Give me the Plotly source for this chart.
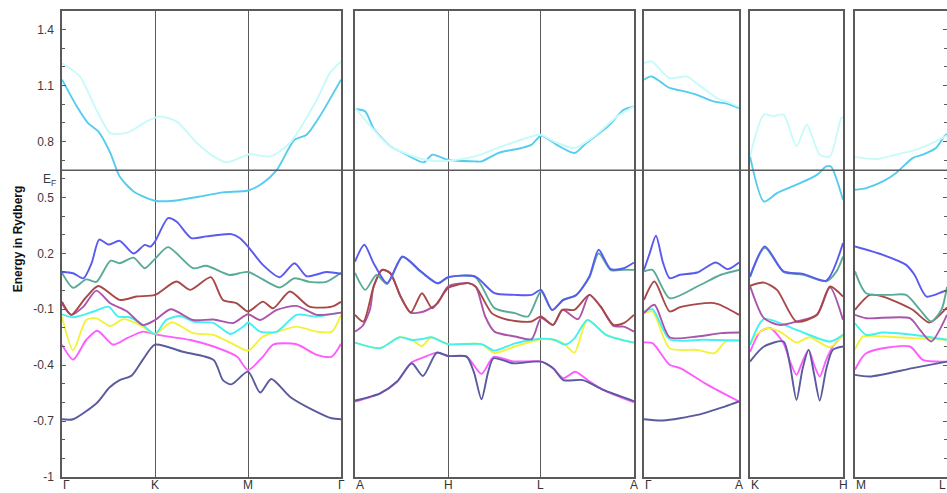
import plotly.graph_objects as go

# Fermi level (Ry)
E_FERMI = 0.645

# ---------------- panel 1 : Γ - K - M - Γ ----------------
gkmg_navy_k = [0, 0.12, 0.38, 0.51, 0.62, 0.75, 0.87, 1.0, 1.3, 1.63, 1.73, 1.82, 2.0, 2.13, 2.25, 2.45, 2.7, 2.9, 3.0]
gkmg_navy_e = [-0.69, -0.69, -0.60, -0.52, -0.48, -0.455, -0.37, -0.29, -0.328, -0.372, -0.48, -0.503, -0.435, -0.547, -0.474, -0.569, -0.641, -0.685, -0.69]
gkmg_magenta_k = [0, 0.12, 0.26, 0.38, 0.55, 0.7, 0.87, 1.0, 1.38, 1.63, 1.88, 2.0, 2.16, 2.27, 2.52, 2.74, 2.9, 3.0]
gkmg_magenta_e = [-0.29, -0.37, -0.265, -0.215, -0.29, -0.255, -0.22, -0.235, -0.265, -0.30, -0.354, -0.426, -0.354, -0.29, -0.288, -0.345, -0.354, -0.285]
gkmg_yellow_k = [0, 0.12, 0.26, 0.37, 0.52, 0.66, 0.84, 1.0, 1.18, 1.41, 1.63, 1.81, 2.0, 2.16, 2.38, 2.52, 2.74, 2.9, 3.0]
gkmg_yellow_e = [-0.14, -0.32, -0.158, -0.149, -0.19, -0.153, -0.185, -0.233, -0.17, -0.228, -0.238, -0.279, -0.322, -0.247, -0.211, -0.193, -0.22, -0.22, -0.13]
gkmg_cyan_k = [0, 0.12, 0.34, 0.5, 0.6, 0.73, 0.87, 1.0, 1.12, 1.27, 1.41, 1.63, 1.81, 1.95, 2.0, 2.13, 2.31, 2.52, 2.74, 3.0]
gkmg_cyan_e = [-0.127, -0.143, -0.112, -0.086, -0.139, -0.143, -0.185, -0.233, -0.158, -0.136, -0.166, -0.174, -0.233, -0.193, -0.171, -0.22, -0.22, -0.13, -0.139, -0.118]
gkmg_purple_k = [0, 0.1, 0.23, 0.37, 0.52, 0.7, 0.87, 1.0, 1.17, 1.41, 1.63, 1.84, 2.0, 2.13, 2.31, 2.52, 2.74, 3.0]
gkmg_purple_e = [-0.07, -0.13, -0.086, 0.0, -0.068, -0.112, -0.185, -0.158, -0.10, -0.158, -0.155, -0.174, -0.127, -0.158, -0.104, -0.082, -0.13, -0.118]
gkmg_brown_k = [0, 0.1, 0.25, 0.39, 0.62, 0.8, 1.0, 1.23, 1.38, 1.6, 1.73, 1.88, 2.0, 2.16, 2.27, 2.45, 2.66, 2.9, 3.0]
gkmg_brown_e = [-0.06, -0.13, -0.041, 0.025, -0.05, -0.032, -0.023, 0.049, 0.004, 0.072, -0.05, -0.068, -0.112, -0.059, -0.095, -0.005, -0.086, -0.086, -0.06]
gkmg_teal_k = [0, 0.12, 0.26, 0.37, 0.52, 0.62, 0.77, 0.89, 1.0, 1.14, 1.41, 1.55, 1.8, 2.0, 2.34, 2.5, 2.66, 2.84, 3.0]
gkmg_teal_e = [0.095, 0.015, 0.06, 0.047, 0.16, 0.147, 0.177, 0.12, 0.17, 0.233, 0.12, 0.133, 0.084, 0.1, 0.017, 0.066, 0.047, 0.047, 0.095]
gkmg_blue_k = [0, 0.12, 0.23, 0.32, 0.4, 0.5, 0.62, 0.77, 0.89, 0.95, 1.0, 1.14, 1.23, 1.39, 1.55, 1.82, 1.91, 2.0, 2.16, 2.34, 2.5, 2.63, 2.84, 3.0]
gkmg_blue_e = [0.1, 0.093, 0.066, 0.15, 0.274, 0.247, 0.267, 0.199, 0.245, 0.236, 0.263, 0.389, 0.371, 0.282, 0.291, 0.303, 0.282, 0.236, 0.138, 0.072, 0.147, 0.077, 0.1, 0.09]
gkmg_cond_k = [0, 0.16, 0.28, 0.39, 0.52, 0.62, 0.77, 1.0, 1.2, 1.48, 1.73, 2.0, 2.16, 2.31, 2.5, 2.63, 2.77, 3.0]
gkmg_cond_e = [1.132, 0.988, 0.899, 0.854, 0.738, 0.612, 0.532, 0.482, 0.482, 0.505, 0.527, 0.537, 0.577, 0.648, 0.809, 0.836, 0.934, 1.132]
gkmg_pale_k = [0, 0.19, 0.37, 0.52, 0.71, 0.91, 1.05, 1.23, 1.45, 1.63, 1.77, 1.95, 2.02, 2.24, 2.45, 2.74, 2.88, 3.0]
gkmg_pale_e = [1.22, 1.15, 0.97, 0.845, 0.849, 0.908, 0.934, 0.908, 0.792, 0.72, 0.688, 0.72, 0.733, 0.72, 0.792, 1.024, 1.168, 1.23]

# ---------------- panel 2 : A - H - L - A ----------------
ahla_navy_k = [0, 0.27, 0.45, 0.61, 0.73, 0.88, 1.0, 1.2, 1.28, 1.36, 1.43, 1.49, 1.7, 2.0, 2.13, 2.24, 2.45, 2.67, 3.0]
ahla_navy_e = [-0.59, -0.551, -0.489, -0.39, -0.458, -0.333, -0.351, -0.354, -0.44, -0.583, -0.44, -0.363, -0.39, -0.381, -0.417, -0.48, -0.48, -0.533, -0.593]
ahla_magenta_k = [0, 0.27, 0.45, 0.61, 0.73, 0.88, 1.0, 1.2, 1.36, 1.49, 1.7, 2.0, 2.13, 2.24, 2.37, 2.5, 2.67, 3.0]
ahla_magenta_e = [-0.595, -0.551, -0.489, -0.385, -0.36, -0.333, -0.351, -0.354, -0.447, -0.355, -0.38, -0.381, -0.417, -0.47, -0.435, -0.48, -0.533, -0.60]
ahla_yellow_k = [0, 0.27, 0.48, 0.61, 0.72, 0.82, 1.0, 1.36, 1.5, 1.72, 2.0, 2.15, 2.26, 2.36, 2.5, 2.7, 3.0]
ahla_yellow_e = [-0.279, -0.309, -0.25, -0.265, -0.297, -0.25, -0.287, -0.287, -0.335, -0.30, -0.261, -0.265, -0.29, -0.333, -0.158, -0.237, -0.279]
ahla_cyan_k = [0, 0.27, 0.48, 0.61, 0.72, 0.82, 1.0, 1.36, 1.5, 1.72, 2.0, 2.15, 2.26, 2.36, 2.5, 2.7, 3.0]
ahla_cyan_e = [-0.279, -0.309, -0.25, -0.265, -0.26, -0.25, -0.287, -0.287, -0.322, -0.283, -0.258, -0.265, -0.29, -0.256, -0.158, -0.237, -0.279]
ahla_purple_k = [0, 0.08, 0.16, 0.2, 0.29, 0.38, 0.49, 0.6, 0.74, 0.89, 1.0, 1.22, 1.3, 1.4, 1.5, 1.72, 1.9, 2.0, 2.13, 2.23, 2.4, 2.52, 2.64, 2.78, 2.89, 3.0]
ahla_purple_e = [-0.22, -0.19, -0.103, 0.022, 0.111, 0.093, -0.032, -0.118, -0.112, -0.067, 0.022, 0.04, 0.02, -0.139, -0.22, -0.246, -0.26, -0.148, -0.184, -0.103, -0.153, -0.023, -0.085, -0.19, -0.193, -0.22]
ahla_brown_k = [0, 0.09, 0.2, 0.29, 0.38, 0.49, 0.6, 0.72, 0.83, 0.92, 1.0, 1.22, 1.3, 1.47, 1.58, 1.72, 1.9, 2.0, 2.13, 2.23, 2.36, 2.52, 2.64, 2.78, 2.89, 3.0]
ahla_brown_e = [-0.13, -0.166, 0.022, 0.111, 0.093, -0.032, -0.118, -0.014, -0.095, -0.041, 0.013, 0.04, 0.02, -0.121, -0.148, -0.163, -0.166, -0.139, -0.184, -0.103, -0.103, -0.023, -0.085, -0.184, -0.175, -0.13]
ahla_teal_k = [0, 0.11, 0.23, 0.345, 0.51, 0.71, 0.89, 1.0, 1.29, 1.5, 1.72, 1.86, 2.0, 2.12, 2.24, 2.38, 2.52, 2.62, 2.75, 2.89, 3.0]
ahla_teal_e = [0.095, 0.004, 0.084, 0.035, 0.18, 0.1, 0.038, 0.07, 0.074, -0.094, -0.121, -0.139, -0.005, -0.104, -0.05, -0.023, 0.07, 0.2, 0.11, 0.112, 0.111]
ahla_blue_k = [0, 0.1, 0.2, 0.345, 0.51, 0.71, 0.89, 1.0, 1.29, 1.5, 1.72, 1.9, 2.0, 2.12, 2.24, 2.38, 2.52, 2.62, 2.75, 2.89, 3.0]
ahla_blue_e = [0.156, 0.246, 0.147, 0.04, 0.183, 0.102, 0.04, 0.072, 0.076, -0.014, -0.023, -0.023, 0.004, -0.104, -0.05, -0.023, 0.076, 0.219, 0.115, 0.12, 0.151]
ahla_cond_k = [0, 0.11, 0.2, 0.38, 0.52, 0.74, 0.83, 1.0, 1.29, 1.36, 1.54, 1.79, 1.9, 2.0, 2.18, 2.36, 2.48, 2.72, 2.89, 3.0]
ahla_cond_e = [0.974, 0.961, 0.87, 0.774, 0.738, 0.688, 0.729, 0.702, 0.693, 0.693, 0.738, 0.765, 0.783, 0.831, 0.779, 0.738, 0.788, 0.881, 0.97, 0.988]
ahla_pale_k = [0, 0.2, 0.38, 0.75, 1.0, 1.29, 1.58, 1.97, 2.0, 2.18, 2.36, 2.57, 2.82, 3.0]
ahla_pale_e = [0.979, 0.863, 0.774, 0.702, 0.697, 0.72, 0.774, 0.836, 0.836, 0.791, 0.765, 0.827, 0.934, 0.988]

# ---------------- panel 3 : Γ - A ----------------
ga_navy_k = [0, 0.2, 0.56, 0.85, 1.0]
ga_navy_e = [-0.69, -0.697, -0.667, -0.622, -0.595]
ga_magenta_k = [0, 0.09, 0.27, 0.38, 0.67, 1.0]
ga_magenta_e = [-0.278, -0.282, -0.398, -0.416, -0.506, -0.595]
ga_yellow_k = [0, 0.09, 0.27, 0.56, 0.74, 0.86, 1.0]
ga_yellow_e = [-0.121, -0.112, -0.309, -0.318, -0.336, -0.273, -0.268]
ga_cyan_k = [0, 0.09, 0.27, 0.63, 1.0]
ga_cyan_e = [-0.112, -0.1, -0.261, -0.264, -0.268]
ga_purple_k = [0, 0.11, 0.27, 0.56, 0.81, 1.0]
ga_purple_e = [-0.121, -0.076, -0.25, -0.246, -0.228, -0.225]
ga_brown_k = [0, 0.11, 0.27, 0.38, 0.74, 1.0]
ga_brown_e = [-0.05, 0.049, -0.112, -0.089, -0.067, -0.13]
ga_teal_k = [0, 0.09, 0.27, 0.56, 0.81, 1.0]
ga_teal_e = [0.103, 0.111, -0.041, 0.022, 0.085, 0.111]
ga_blue_k = [0, 0.06, 0.126, 0.2, 0.27, 0.38, 0.56, 0.755, 0.88, 1.0]
ga_blue_e = [0.111, 0.2, 0.294, 0.15, 0.067, 0.085, 0.097, 0.151, 0.115, 0.151]
ga_cond_k = [0, 0.08, 0.27, 0.38, 0.55, 0.73, 0.87, 1.0]
ga_cond_e = [1.131, 1.149, 1.087, 1.074, 1.051, 1.015, 1.003, 0.979]
ga_pale_k = [0, 0.08, 0.27, 0.45, 0.55, 0.77, 0.91, 1.0]
ga_pale_e = [1.221, 1.23, 1.14, 1.149, 1.114, 1.033, 1.006, 0.985]

# ---------------- panel 4 : K - H ----------------
kh_navy_k = [0, 0.15, 0.36, 0.43, 0.5, 0.565, 0.63, 0.69, 0.75, 0.82, 0.89, 1.0]
kh_navy_e = [-0.381, -0.3, -0.273, -0.4, -0.587, -0.42, -0.318, -0.45, -0.59, -0.42, -0.318, -0.3]
kh_magenta_k = [0, 0.11, 0.22, 0.36, 0.43, 0.5, 0.565, 0.63, 0.69, 0.75, 0.82, 0.89, 1.0]
kh_magenta_e = [-0.33, -0.22, -0.202, -0.282, -0.38, -0.452, -0.38, -0.318, -0.4, -0.461, -0.37, -0.3, -0.237]
kh_yellow_k = [0, 0.06, 0.18, 0.32, 0.5, 0.64, 0.86, 1.0]
kh_yellow_e = [-0.29, -0.24, -0.202, -0.22, -0.279, -0.25, -0.304, -0.237]
kh_cyan_k = [0, 0.15, 0.5, 0.86, 1.0]
kh_cyan_e = [-0.291, -0.153, -0.211, -0.273, -0.237]
kh_purple_k = [0, 0.15, 0.32, 0.5, 0.72, 0.86, 1.0]
kh_purple_e = [0.026, -0.148, -0.184, -0.166, -0.13, 0.018, -0.157]
kh_brown_k = [0, 0.15, 0.29, 0.5, 0.72, 0.86, 1.0]
kh_brown_e = [0.026, 0.043, 0.004, -0.166, -0.13, 0.022, -0.032]
kh_teal_k = [0, 0.16, 0.36, 0.57, 0.82, 0.93, 1.0]
kh_teal_e = [0.072, 0.23, 0.1, 0.085, 0.05, 0.103, 0.183]
kh_blue_k = [0, 0.16, 0.36, 0.57, 0.82, 1.0]
kh_blue_e = [0.076, 0.237, 0.103, 0.09, 0.054, 0.255]
kh_cond_k = [0, 0.15, 0.29, 0.5, 0.72, 0.82, 0.87, 1.0]
kh_cond_e = [0.72, 0.478, 0.523, 0.568, 0.621, 0.666, 0.666, 0.487]
kh_pale_k = [0, 0.15, 0.25, 0.36, 0.5, 0.61, 0.75, 0.86, 0.98, 1.0]
kh_pale_e = [0.72, 0.944, 0.935, 0.944, 0.774, 0.89, 0.729, 0.72, 0.926, 0.93]

# ---------------- panel 5 : M - L ----------------
ml_navy_k = [0, 0.16, 0.62, 0.99]
ml_navy_e = [-0.452, -0.461, -0.416, -0.381]
ml_magenta_k = [0, 0.12, 0.59, 0.73, 0.99]
ml_magenta_e = [-0.425, -0.336, -0.3, -0.372, -0.381]
ml_yellow_k = [0, 0.09, 0.3, 0.62, 0.99]
ml_yellow_e = [-0.315, -0.246, -0.246, -0.255, -0.264]
ml_cyan_k = [0, 0.12, 0.3, 0.62, 0.99]
ml_cyan_e = [-0.175, -0.237, -0.225, -0.237, -0.264]
ml_purple_k = [0, 0.12, 0.59, 0.7, 0.82, 0.99]
ml_purple_e = [-0.13, -0.148, -0.148, -0.211, -0.273, -0.13]
ml_brown_k = [0, 0.16, 0.3, 0.62, 0.8, 0.99]
ml_brown_e = [-0.103, -0.023, -0.032, -0.103, -0.171, -0.09]
ml_teal_k = [0, 0.12, 0.37, 0.55, 0.7, 0.82, 0.93, 0.99]
ml_teal_e = [0.103, -0.014, -0.023, -0.023, -0.103, -0.166, -0.103, 0.02]
ml_blue_k = [0, 0.3, 0.55, 0.64, 0.77, 0.95, 0.99]
ml_blue_e = [0.237, 0.192, 0.138, 0.085, -0.032, -0.005, 0.0]
ml_cond_k = [0, 0.12, 0.3, 0.44, 0.62, 0.73, 0.87, 0.96, 0.99]
ml_cond_e = [0.541, 0.55, 0.586, 0.63, 0.711, 0.729, 0.765, 0.827, 0.84]
ml_pale_k = [0, 0.23, 0.44, 0.66, 0.87, 0.97, 0.99]
ml_pale_e = [0.716, 0.706, 0.729, 0.756, 0.8, 0.827, 0.83]

# symmetry-point labels of each panel
gkmg_labels = ["Γ", "K", "M", "Γ"]
ahla_labels = ["A", "H", "L", "A"]
ga_labels = ["Γ", "A"]
kh_labels = ["K", "H"]
ml_labels = ["M", "L"]

# energy tick labels
energy_ticks = [-1.0, -0.7, -0.4, -0.1, 0.2, 0.5, 0.8, 1.1, 1.4]
energy_tick_text = ["-1", "-0.7", "-0.4", "-0.1", "0.2", "0.5", "0.8", "1.1", "1.4"]

# ---------------------------------------------------------------
band_colors = {
    "magenta": "#ff5cff",
    "navy": "#5a5a9e",
    "yellow": "#f2f23c",
    "cyan": "#44f0f0",
    "purple": "#aa55aa",
    "brown": "#a84848",
    "teal": "#5aaa98",
    "blue": "#5a5af0",
    "cond": "#55ccee",
    "pale": "#c8fafa",
}
draw_order = ["magenta", "navy", "yellow", "cyan", "purple", "brown", "teal", "blue", "cond", "pale"]

panels = [
    ("gkmg", gkmg_labels, 3.0),
    ("ahla", ahla_labels, 3.0),
    ("ga", ga_labels, 1.0),
    ("kh", kh_labels, 1.0),
    ("ml", ml_labels, 0.99),
]
# horizontal placement of the panels (fractions of the plotting width)
domains = [[0.0, 0.3153], [0.3311, 0.6463], [0.6576, 0.7650], [0.7774, 0.8825], [0.8960, 1.0]]

g = globals()
fig = go.Figure()

for name in draw_order:
    for i, (pname, _, _) in enumerate(panels):
        suffix = "" if i == 0 else str(i + 1)
        fig.add_trace(go.Scatter(
            x=g[f"{pname}_{name}_k"], y=g[f"{pname}_{name}_e"],
            mode="lines",
            line=dict(color=band_colors[name], width=1.9, shape="spline", smoothing=0.7),
            xaxis="x" + suffix, yaxis="y" + suffix,
            showlegend=False, hoverinfo="skip",
        ))

AX_COLOR = "#5a5a5a"
layout = dict(
    width=947, height=493,
    margin=dict(l=62, r=0, t=11, b=16),
    paper_bgcolor="white", plot_bgcolor="white",
    showlegend=False,
    font=dict(family="Liberation Sans, Arial, sans-serif", color="#333333"),
)

annotations = []
n_panels = len(panels)
for i, (pname, labels, kmax) in enumerate(panels):
    suffix = "" if i == 0 else str(i + 1)
    xkey = "xaxis" + suffix
    ykey = "yaxis" + suffix
    n = len(labels)
    layout[xkey] = dict(
        domain=domains[i], range=[0, kmax], anchor="y" + suffix,
        showline=True, mirror=True, linecolor=AX_COLOR, linewidth=1.5,
        tickvals=list(range(n)), showticklabels=False, ticks="",
        showgrid=True, gridcolor=AX_COLOR, gridwidth=1.2, zeroline=False,
        fixedrange=True,
    )
    yax = dict(
        range=[-1.0, 1.5], anchor="x" + suffix,
        showline=True, mirror=True, linecolor=AX_COLOR, linewidth=1.5,
        showgrid=False, zeroline=False, fixedrange=True,
    )
    if i == 0:
        yax.update(
            tickvals=energy_ticks, ticktext=energy_tick_text,
            ticks="inside", ticklen=4, tickcolor=AX_COLOR, tickwidth=1,
            ticklabelstandoff=4,
            tickfont=dict(size=12, color="#3a3a3a"),
            minor=dict(dtick=0.1, tick0=0, ticks="inside", ticklen=3, tickcolor=AX_COLOR),
        )
    elif i == n_panels - 1:
        yax.update(
            side="right", showticklabels=False,
            ticks="inside", ticklen=4, tickcolor=AX_COLOR,
            tickvals=energy_ticks,
            minor=dict(dtick=0.1, tick0=0, ticks="inside", ticklen=3, tickcolor=AX_COLOR),
        )
    else:
        yax.update(showticklabels=False, ticks="")
    if i > 0:
        yax["matches"] = "y"
    layout[ykey] = yax

    for j, lab in enumerate(labels):
        label = dict(
            y=0, yref="paper", yanchor="top", yshift=0, borderpad=0,
            text=lab, showarrow=False, font=dict(size=12, color="#333333"),
        )
        if i == n_panels - 1 and j == n - 1:
            # last label sits on the right edge of the figure
            label.update(x=1.0, xref="paper", xanchor="right")
        else:
            label.update(x=j, xref="x" + suffix, xanchor="left" if j == 0 else "center")
        annotations.append(label)

annotations.append(dict(
    x=-0.004, xref="paper", y=E_FERMI, yref="y", xanchor="right", yanchor="top",
    text="E<sub>F</sub>", showarrow=False, font=dict(size=12, color="#3a3a3a"),
))
annotations.append(dict(
    x=-0.0497, xref="paper", y=0.51, yref="paper", xanchor="center", yanchor="middle",
    textangle=-90, text="<b>Energy in Rydberg</b>", showarrow=False,
    font=dict(size=12, color="#111111"),
))
layout["annotations"] = annotations
layout["shapes"] = [dict(
    type="line", xref="paper", x0=0, x1=1, yref="y", y0=E_FERMI, y1=E_FERMI,
    line=dict(color=AX_COLOR, width=1.5), layer="above",
)]

fig.update_layout(**layout)
fig.write_html("out.html")
